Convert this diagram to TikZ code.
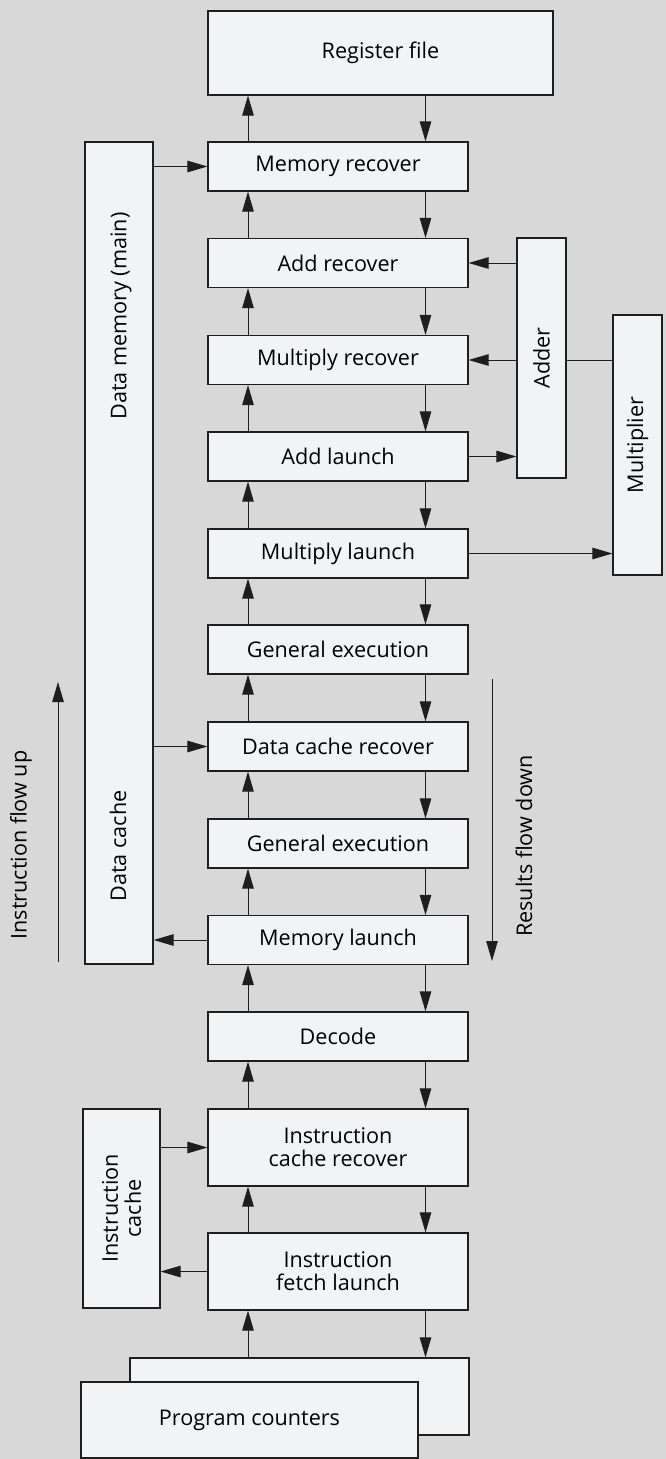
\documentclass[tikz,border=0pt]{standalone}
\usepackage{fontspec}
\setmainfont{Open Sans}
\usetikzlibrary{arrows.meta,calc}
\definecolor{paper}{HTML}{D8D8D8}
\definecolor{boxfill}{HTML}{F2F3F5}
\definecolor{ink}{HTML}{1E1E1E}
\newcommand{\stagefont}{\fontsize{21.6}{23}\selectfont}
\begin{document}
\begin{tikzpicture}[x=1pt,y=-1pt,
  stage/.style={draw=ink, line width=1.2pt, fill=boxfill, inner sep=0pt,
                font=\stagefont, align=center},
  unit/.style={stage, minimum width=260pt, minimum height=49pt},
  vlabel/.style={font=\stagefont, align=center, rotate=90, inner sep=0pt},
  arr/.style={draw=ink, line width=1pt, -{Triangle[length=20pt,width=11.5pt]}},
  link/.style={draw=ink, line width=1pt}]

% page and background
\fill[paper] (0,0) rectangle (666,1459);
\useasboundingbox (0,0) rectangle (666,1459);

% pipeline stages
\node[stage, minimum width=345pt, minimum height=84pt] (rf) at (380.5,53) {Register file};
\node[unit] (mr)  at (338,166.5)  {Memory recover};
\node[unit] (ar)  at (338,263)    {Add recover};
\node[unit] (mur) at (338,360)    {Multiply recover};
\node[unit] (al)  at (338,456.5)  {Add launch};
\node[unit] (ml)  at (338,553.5)  {Multiply launch};
\node[unit] (ge1) at (338,649.5)  {General execution};
\node[unit] (dcr) at (338,746.5)  {Data cache recover};
\node[unit] (ge2) at (338,843.5)  {General execution};
\node[unit] (mlc) at (338,940)    {Memory launch};
\node[unit] (dec) at (338,1036.5) {Decode};
\node[stage, minimum width=260pt, minimum height=77pt] (icr) at (338,1147.5) {Instruction\\cache recover};
\node[stage, minimum width=260pt, minimum height=77pt] (ifl) at (338,1271.5) {Instruction\\fetch launch};

% program counters (stacked pair)
\node[stage, minimum width=339pt, minimum height=77pt] (pcb) at (299.5,1396.5) {};
\node[stage, minimum width=337pt, minimum height=76pt] (pcf) at (249.5,1420) {Program counters};

% side units
\node[stage, minimum width=68pt, minimum height=822pt] (dm) at (119,553) {};
\node[vlabel] at (121,316) {Data memory (main)};
\node[vlabel] at (118,846) {Data cache};
\node[stage, minimum width=49pt, minimum height=240pt] (add) at (541.5,358) {};
\node[vlabel] at (add.center) {Adder};
\node[stage, minimum width=49pt, minimum height=260pt] (mul) at (637.5,445) {};
\node[vlabel] at (mul.center) {Multiplier};
\node[stage, minimum width=77pt, minimum height=199pt] (ic) at (121.5,1208.5) {};
\node[vlabel] at (ic.center) {Instruction\\cache};

% columns of the up and down arrows
\coordinate (upx) at (248,0);
\coordinate (dnx) at (425.5,0);

% instructions move up
\foreach \a/\b in {mr/rf, ar/mr, mur/ar, al/mur, ml/al, ge1/ml, dcr/ge1,
                   ge2/dcr, mlc/ge2, dec/mlc, icr/dec, ifl/icr, pcb/ifl}
  \draw[arr] (\a.north -| upx) -- (\b.south -| upx);

% results move down
\foreach \a/\b in {rf/mr, mr/ar, ar/mur, mur/al, al/ml, ml/ge1, ge1/dcr,
                   dcr/ge2, ge2/mlc, mlc/dec, dec/icr, icr/ifl, ifl/pcb}
  \draw[arr] (\a.south -| dnx) -- (\b.north -| dnx);

% memory traffic
\draw[arr] (dm.east |- mr.west) -- (mr.west);
\draw[arr] (dm.east |- dcr.west) -- (dcr.west);
\draw[arr] (mlc.west) -- (dm.east |- mlc.west);
\draw[arr] (ic.east |- icr.west) -- (icr.west);
\draw[arr] (ifl.west) -- (ic.east |- ifl.west);

% functional units
\draw[arr] (add.west |- ar.east) -- (ar.east);
\draw[arr] (add.west |- mur.east) -- (mur.east);
\draw[link] (add.east |- mur.east) -- (mul.west |- mur.east);
\draw[arr] (al.east) -- (add.west |- al.east);
\draw[arr] (ml.east) -- (mul.west |- ml.east);

% flow direction markers
\coordinate (ifb) at (58,962);
\coordinate (ift) at (58,682);
\draw[arr] (ifb) -- (ift);
\node[vlabel] (iflow) at (21,845) {Instruction flow up};
\coordinate (rft) at (492,679);
\coordinate (rfb) at (492,961);
\draw[arr] (rft) -- (rfb);
\node[vlabel] (rflow) at (524,846) {Results flow down};
\end{tikzpicture}
\end{document}
